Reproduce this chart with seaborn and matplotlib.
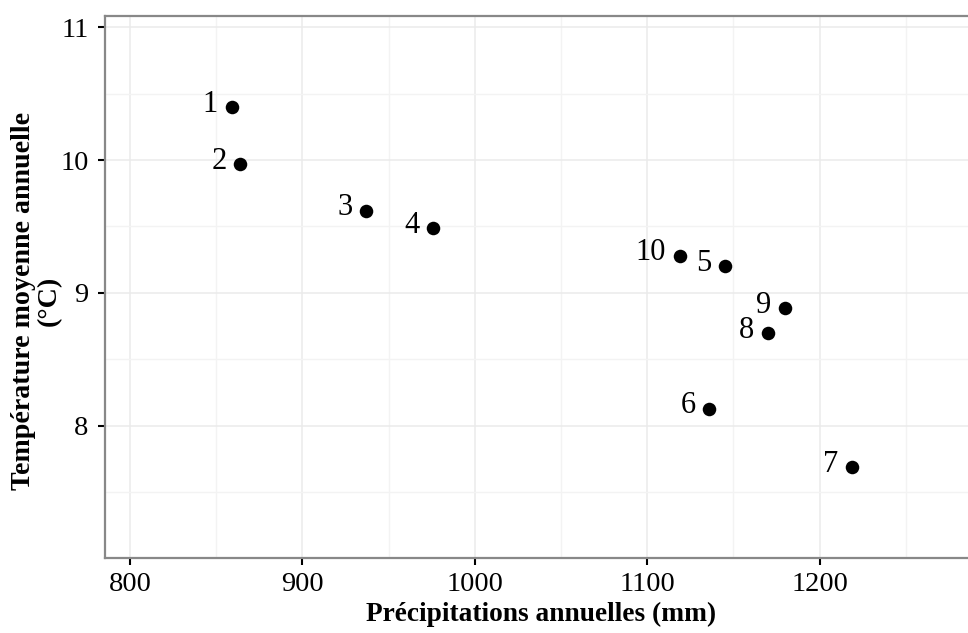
import matplotlib
matplotlib.use("Agg")
import matplotlib.pyplot as plt
from matplotlib.ticker import MultipleLocator
import seaborn as sns
import pandas as pd

labels = ["1", "2", "3", "4", "5", "6", "7", "8", "9", "10"]
precip = [859, 864, 937, 976, 1145, 1136, 1219, 1170, 1180, 1119]
temp = [10.40, 9.97, 9.62, 9.49, 9.20, 8.13, 7.69, 8.70, 8.885, 9.28]

df = pd.DataFrame({"label": labels, "precip": precip, "temp": temp})

sns.set_style("white")
plt.rcParams["font.family"] = ["Liberation Serif", "DejaVu Serif"]

fig = plt.figure(figsize=(9.68, 6.33), dpi=100)
ax = fig.add_axes([0.1088, 0.118, 0.8912, 0.857])

ax.xaxis.set_major_locator(MultipleLocator(100))
ax.xaxis.set_minor_locator(MultipleLocator(50))
ax.yaxis.set_major_locator(MultipleLocator(1))
ax.yaxis.set_minor_locator(MultipleLocator(0.5))
ax.grid(which="major", color="#ebebeb", linewidth=1.1)
ax.grid(which="minor", color="#f3f3f3", linewidth=1.0)
ax.set_axisbelow(True)

sns.scatterplot(data=df, x="precip", y="temp", ax=ax, color="black",
                s=95, edgecolor="black", linewidth=0, zorder=3)

for lab, x, y in zip(labels, precip, temp):
    ax.annotate(lab, (x, y), xytext=(-10, 2), textcoords="offset points",
                ha="right", va="center", fontsize=22, color="black")

ax.set_xlim(785.7, 1286)
ax.set_ylim(7.003, 11.085)
ax.set_yticks([8, 9, 10, 11])
ax.set_xticks([800, 900, 1000, 1100, 1200])

for side in ["left", "bottom", "top"]:
    ax.spines[side].set_visible(True)
    ax.spines[side].set_color("#888888")
    ax.spines[side].set_linewidth(1.6)
ax.spines["right"].set_visible(False)

ax.tick_params(axis="x", which="major", bottom=True, top=False)
ax.tick_params(axis="y", which="major", left=True, right=False)
ax.tick_params(axis="both", which="major", direction="out", length=5,
               width=1.5, color="black", labelsize=20.5, labelcolor="black")
ax.tick_params(axis="x", which="major", pad=5)
ax.tick_params(axis="y", which="major", pad=7)
ax.tick_params(axis="both", which="minor", length=0)

ax.set_xlabel("Précipitations annuelles (mm)", fontsize=19.7, fontweight="bold",
              color="black")
ax.xaxis.label.set_va("baseline")
ax.xaxis.set_label_coords(0.5056, -0.1156)

ax.set_ylabel("Température moyenne annuelle\n(°C)", fontsize=20.2, fontweight="bold",
              linespacing=1.05, color="black")
ax.yaxis.label.set_va("center")
ax.yaxis.set_label_coords(-0.0795, 0.474)

fig.savefig("out.png", dpi=100)
